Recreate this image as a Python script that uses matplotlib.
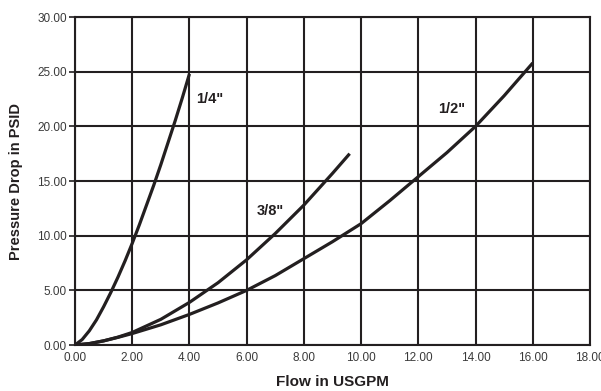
import matplotlib
matplotlib.use("Agg")
import matplotlib.pyplot as plt
from matplotlib.ticker import FormatStrFormatter

plt.rcParams['font.family'] = ['Liberation Sans', 'DejaVu Sans']

# Data
flow_quarter = [0.0, 0.25, 0.5, 0.75, 1.0, 1.25, 1.5, 1.75, 2.0, 2.25, 2.5, 2.75,
                3.0, 3.25, 3.5, 3.75, 4.0]
dp_quarter = [0.0, 0.5, 1.3, 2.3, 3.5, 4.8, 6.2, 7.7, 9.3, 11.0, 12.8, 14.6,
              16.5, 18.5, 20.5, 22.6, 24.8]

flow_3_8 = [0.0, 0.5, 1.0, 1.5, 2.0, 3.0, 4.0, 5.0, 6.0, 7.0, 8.0, 9.0, 9.6]
dp_3_8 = [0.0, 0.13, 0.38, 0.72, 1.15, 2.35, 3.9, 5.7, 7.8, 10.2, 12.8, 15.7, 17.5]

flow_half = [0.0, 0.5, 1.0, 1.5, 2.0, 3.0, 4.0, 5.0, 6.0, 7.0, 8.0, 9.0, 10.0,
             11.0, 12.0, 13.0, 14.0, 15.0, 16.0]
dp_half = [0.0, 0.13, 0.38, 0.7, 1.05, 1.85, 2.8, 3.85, 5.0, 6.35, 7.9, 9.45, 11.1,
           13.2, 15.4, 17.6, 20.0, 22.8, 25.8]

labels = ['1/4"', '3/8"', '1/2"']
label_pos_x = [4.25, 6.35, 12.7]
label_pos_y = [22.5, 12.3, 21.6]

x_ticks = [0, 2, 4, 6, 8, 10, 12, 14, 16, 18]
y_ticks = [0, 5, 10, 15, 20, 25, 30]

fig = plt.figure(figsize=(6.01, 3.91), dpi=100)
ax = fig.add_axes([0.1248, 0.1176, 0.8569, 0.8389])

ax.set_xlim(0, 18)
ax.set_ylim(0, 30)
ax.set_xticks(x_ticks)
ax.set_yticks(y_ticks)
ax.xaxis.set_major_formatter(FormatStrFormatter('%.2f'))
ax.yaxis.set_major_formatter(FormatStrFormatter('%.2f'))
ax.grid(True, color='#231f20', linewidth=1.5)
ax.set_axisbelow(True)
for s in ax.spines.values():
    s.set_color('#231f20')
    s.set_linewidth(1.5)

ax.tick_params(axis='y', direction='out', length=4, width=1.2, color='#231f20',
               labelsize=8.5, labelcolor='#3a3a3a', pad=2)
ax.tick_params(axis='x', direction='out', length=0, labelsize=8.5,
               labelcolor='#3a3a3a', pad=5)

for xs, ys in [(flow_quarter, dp_quarter), (flow_3_8, dp_3_8), (flow_half, dp_half)]:
    ax.plot(xs, ys, color='#231f20', linewidth=2.3, solid_capstyle='butt')

for t, lx, ly in zip(labels, label_pos_x, label_pos_y):
    ax.text(lx, ly, t, fontsize=10.5, fontweight='bold', color='#231f20',
            ha='left', va='center')

ax.set_xlabel('Flow in USGPM', fontsize=11, fontweight='bold', color='#231f20', labelpad=8)
ax.set_ylabel('Pressure Drop in PSID', fontsize=10.5, fontweight='bold', color='#231f20', labelpad=10)

fig.savefig('out.png', dpi=100)
